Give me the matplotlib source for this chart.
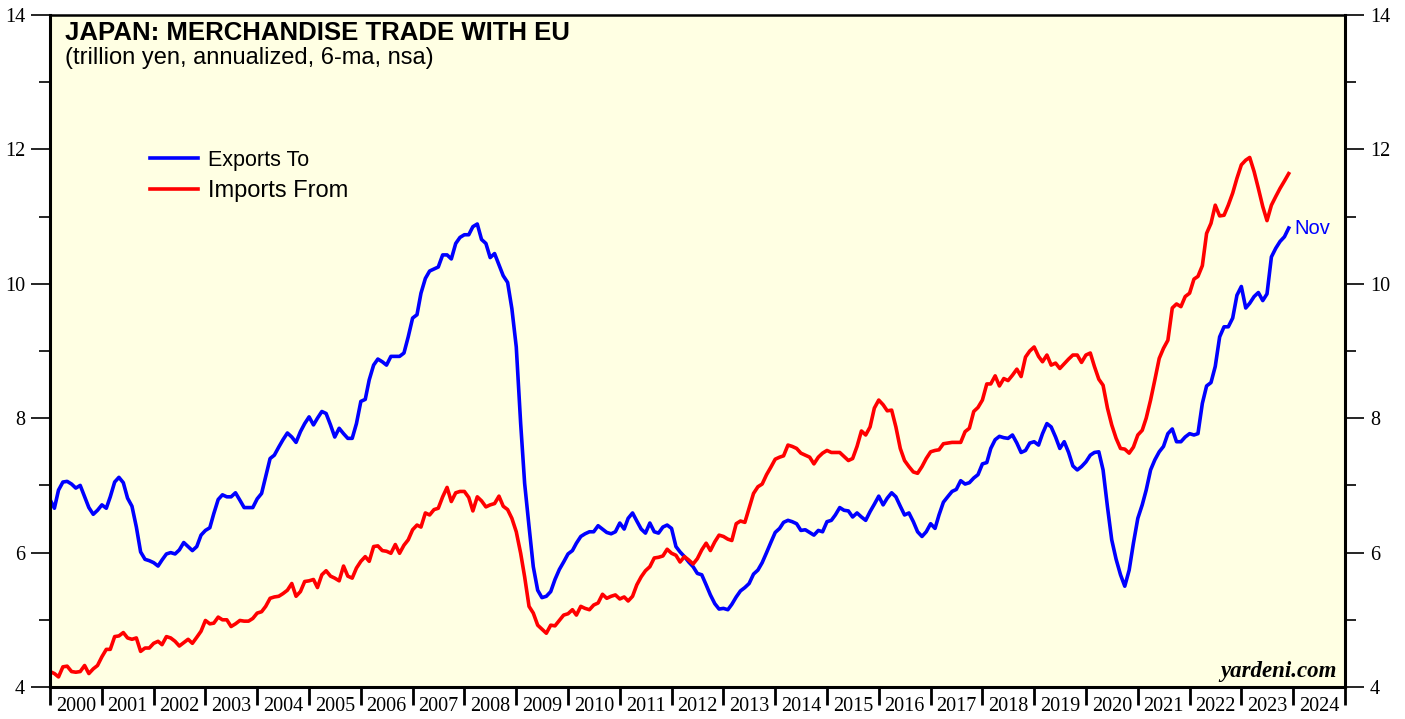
import numpy as np
import pandas as pd
import matplotlib
matplotlib.use("Agg")
import matplotlib.pyplot as plt
import matplotlib.dates as mdates

# Japan merchandise trade with EU, trillion yen, annualized, 6-month average
# monthly values, Jan 2000 onwards
exports_to = [
    6.79, 6.66, 6.93, 7.05, 7.06, 7.02, 6.96, 7.00, 6.83, 6.67, 6.57, 6.63,   # 2000
    6.71, 6.66, 6.83, 7.05, 7.12, 7.04, 6.81, 6.69, 6.38, 6.01, 5.90, 5.88,   # 2001
    5.85, 5.80, 5.89, 5.98, 6.00, 5.98, 6.04, 6.15, 6.09, 6.03, 6.09, 6.26,   # 2002
    6.33, 6.37, 6.58, 6.79, 6.86, 6.83, 6.83, 6.89, 6.78, 6.67, 6.67, 6.67,   # 2003
    6.80, 6.88, 7.13, 7.40, 7.45, 7.57, 7.68, 7.78, 7.72, 7.64, 7.80, 7.92,   # 2004
    8.02, 7.90, 8.00, 8.10, 8.07, 7.90, 7.72, 7.85, 7.77, 7.70, 7.70, 7.92,   # 2005
    8.25, 8.28, 8.57, 8.79, 8.88, 8.84, 8.79, 8.92, 8.92, 8.92, 8.97, 9.21,   # 2006
    9.49, 9.54, 9.86, 10.08, 10.19, 10.22, 10.25, 10.43, 10.43, 10.37, 10.60, 10.69,  # 2007
    10.73, 10.73, 10.85, 10.89, 10.66, 10.60, 10.39, 10.45, 10.28, 10.12, 10.02, 9.63,  # 2008
    9.06, 7.92, 7.03, 6.39, 5.79, 5.44, 5.33, 5.35, 5.42, 5.60, 5.75, 5.86,   # 2009
    5.98, 6.03, 6.14, 6.24, 6.28, 6.31, 6.31, 6.40, 6.35, 6.30, 6.28, 6.31,   # 2010
    6.44, 6.35, 6.51, 6.59, 6.47, 6.35, 6.29, 6.44, 6.31, 6.29, 6.38, 6.41,   # 2011
    6.36, 6.09, 6.01, 5.94, 5.86, 5.79, 5.69, 5.67, 5.52, 5.37, 5.24, 5.16,   # 2012
    5.17, 5.15, 5.23, 5.34, 5.43, 5.48, 5.54, 5.68, 5.74, 5.85, 6.00, 6.15,   # 2013
    6.30, 6.36, 6.45, 6.48, 6.46, 6.43, 6.33, 6.34, 6.30, 6.26, 6.33, 6.31,   # 2014
    6.46, 6.48, 6.56, 6.67, 6.63, 6.62, 6.53, 6.59, 6.53, 6.48, 6.61, 6.72,   # 2015
    6.84, 6.71, 6.81, 6.89, 6.83, 6.69, 6.56, 6.59, 6.46, 6.31, 6.24, 6.31,   # 2016
    6.43, 6.36, 6.56, 6.75, 6.83, 6.91, 6.94, 7.07, 7.02, 7.04, 7.11, 7.16,   # 2017
    7.32, 7.34, 7.55, 7.68, 7.73, 7.71, 7.70, 7.75, 7.63, 7.49, 7.52, 7.63,   # 2018
    7.65, 7.60, 7.77, 7.92, 7.87, 7.72, 7.55, 7.65, 7.49, 7.29, 7.23, 7.28,   # 2019
    7.35, 7.45, 7.49, 7.50, 7.23, 6.68, 6.19, 5.90, 5.67, 5.50, 5.74, 6.14,   # 2020
    6.51, 6.71, 6.93, 7.23, 7.38, 7.50, 7.58, 7.77, 7.84, 7.65, 7.65, 7.72,   # 2021
    7.77, 7.75, 7.77, 8.22, 8.48, 8.53, 8.77, 9.21, 9.36, 9.36, 9.49, 9.83,   # 2022
    9.96, 9.64, 9.71, 9.81, 9.87, 9.75, 9.85, 10.40, 10.53, 10.63, 10.70, 10.83,  # 2023
]

imports_from = [
    4.23, 4.20, 4.15, 4.30, 4.31, 4.23, 4.22, 4.23, 4.32, 4.20, 4.27, 4.32,   # 2000
    4.45, 4.56, 4.56, 4.75, 4.76, 4.81, 4.73, 4.71, 4.73, 4.53, 4.58, 4.58,   # 2001
    4.65, 4.68, 4.63, 4.75, 4.73, 4.68, 4.61, 4.66, 4.71, 4.65, 4.74, 4.83,   # 2002
    4.99, 4.94, 4.95, 5.04, 5.00, 5.00, 4.90, 4.94, 4.99, 4.98, 4.98, 5.02,   # 2003
    5.10, 5.12, 5.20, 5.32, 5.34, 5.35, 5.39, 5.44, 5.54, 5.35, 5.42, 5.57,   # 2004
    5.58, 5.60, 5.48, 5.67, 5.73, 5.65, 5.62, 5.58, 5.80, 5.65, 5.62, 5.77,   # 2005
    5.87, 5.94, 5.87, 6.09, 6.10, 6.03, 6.02, 5.99, 6.12, 5.99, 6.11, 6.19,   # 2006
    6.34, 6.41, 6.38, 6.59, 6.56, 6.64, 6.66, 6.83, 6.97, 6.76, 6.89, 6.91,   # 2007
    6.91, 6.82, 6.62, 6.83, 6.77, 6.68, 6.71, 6.73, 6.84, 6.69, 6.64, 6.51,   # 2008
    6.31, 5.99, 5.64, 5.20, 5.10, 4.92, 4.86, 4.80, 4.92, 4.91, 4.99, 5.07,   # 2009
    5.09, 5.15, 5.07, 5.20, 5.17, 5.15, 5.22, 5.25, 5.38, 5.32, 5.35, 5.37,   # 2010
    5.31, 5.34, 5.28, 5.35, 5.52, 5.64, 5.73, 5.79, 5.92, 5.93, 5.95, 6.05,   # 2011
    5.99, 5.96, 5.86, 5.94, 5.89, 5.83, 5.91, 6.04, 6.14, 6.03, 6.16, 6.26,   # 2012
    6.24, 6.20, 6.18, 6.43, 6.47, 6.45, 6.66, 6.88, 6.98, 7.02, 7.16, 7.27,   # 2013
    7.39, 7.42, 7.44, 7.60, 7.58, 7.55, 7.48, 7.45, 7.42, 7.32, 7.42, 7.48,   # 2014
    7.52, 7.49, 7.49, 7.49, 7.43, 7.37, 7.40, 7.58, 7.81, 7.75, 7.87, 8.15,   # 2015
    8.27, 8.20, 8.11, 8.12, 7.87, 7.55, 7.37, 7.28, 7.20, 7.18, 7.28, 7.40,   # 2016
    7.50, 7.52, 7.53, 7.62, 7.63, 7.64, 7.64, 7.64, 7.80, 7.85, 8.10, 8.16,   # 2017
    8.27, 8.51, 8.51, 8.63, 8.48, 8.59, 8.56, 8.64, 8.73, 8.62, 8.91, 9.00,   # 2018
    9.06, 8.92, 8.84, 8.94, 8.79, 8.82, 8.74, 8.81, 8.88, 8.94, 8.94, 8.83,   # 2019
    8.94, 8.97, 8.77, 8.58, 8.49, 8.15, 7.90, 7.70, 7.55, 7.54, 7.48, 7.57,   # 2020
    7.75, 7.82, 8.00, 8.27, 8.57, 8.89, 9.04, 9.16, 9.64, 9.70, 9.66, 9.81,   # 2021
    9.86, 10.07, 10.11, 10.27, 10.75, 10.90, 11.17, 11.01, 11.02, 11.17, 11.35, 11.57,  # 2022
    11.77, 11.84, 11.88, 11.67, 11.42, 11.15, 10.94, 11.17, 11.30, 11.42, 11.53, 11.64,  # 2023
]

months = pd.date_range("2000-01-01", periods=len(exports_to), freq="MS")
year_labels = [str(y) for y in range(2000, 2025)]
y_ticks = [4, 6, 8, 10, 12, 14]

fig = plt.figure(figsize=(14.05, 7.19), dpi=100)
ax = fig.add_axes([50 / 1405, 1 - 687 / 719, 1295 / 1405, 672 / 719])
ax.set_facecolor("#FFFFE3")

ax.plot(months, exports_to, color="#0000FF", lw=2.6, label="Exports To", solid_joinstyle="round")
ax.plot(months, imports_from, color="#FF0000", lw=2.6, label="Imports From", solid_joinstyle="round")

ax.set_xlim(pd.Timestamp("2000-01-01"), pd.Timestamp("2025-01-01"))
ax.set_ylim(4, 14)

# year ticks at boundaries, labels centred mid-year
ax.xaxis.set_major_locator(mdates.YearLocator())
ax.xaxis.set_major_formatter(plt.NullFormatter())
mid_years = [pd.Timestamp(f"{y}-07-02") for y in range(2000, 2025)]
ax.set_xticks(mid_years, minor=True)
ax.set_xticklabels(year_labels, minor=True)
ax.tick_params(axis="x", which="major", direction="out", length=13, width=2, color="black")
ax.tick_params(axis="x", which="minor", length=0, pad=7, labelsize=14.5)

ax.set_yticks(y_ticks)
ax.set_yticks(range(5, 14, 2), minor=True)
ax.tick_params(axis="y", which="major", direction="out", length=14, width=1.2,
               left=True, right=True, labelleft=True, labelright=True, labelsize=14.5, pad=4)
ax.tick_params(axis="y", which="minor", direction="out", length=8, width=1.2,
               left=True, right=True)

for lab in ax.get_xticklabels(minor=True) + ax.get_yticklabels():
    lab.set_fontfamily("Liberation Serif")

for side in ["left", "right", "top", "bottom"]:
    ax.spines[side].set_linewidth(2.2)
ax.spines["top"].set_linewidth(1.8)

ax.text(0.0116, 0.9628, "JAPAN: MERCHANDISE TRADE WITH EU", transform=ax.transAxes,
        fontsize=18.5, fontweight="bold", family="Liberation Sans", va="baseline", ha="left")
ax.text(0.0116, 0.9270, "(trillion yen, annualized, 6-ma, nsa)", transform=ax.transAxes,
        fontsize=17, family="Liberation Sans", va="baseline", ha="left")

leg = ax.legend(loc="upper left", bbox_to_anchor=(0.0772, 0.7996), frameon=False,
                prop={"family": "Liberation Sans", "size": 15.5}, handlelength=2.25,
                handletextpad=0.45, labelspacing=0.43, borderpad=0, borderaxespad=0)
leg.get_texts()[1].set_fontsize(17)

ax.text(pd.Timestamp("2024-01-10"), exports_to[-1], "Nov", color="#0000FF",
        fontsize=14.5, family="Liberation Sans", va="center", ha="left")

ax.text(0.9935, 0.0149, "yardeni.com", transform=ax.transAxes, fontsize=16.5,
        family="Liberation Serif", fontweight="bold", fontstyle="italic", ha="right", va="baseline")

fig.savefig("out.png", dpi=100)
